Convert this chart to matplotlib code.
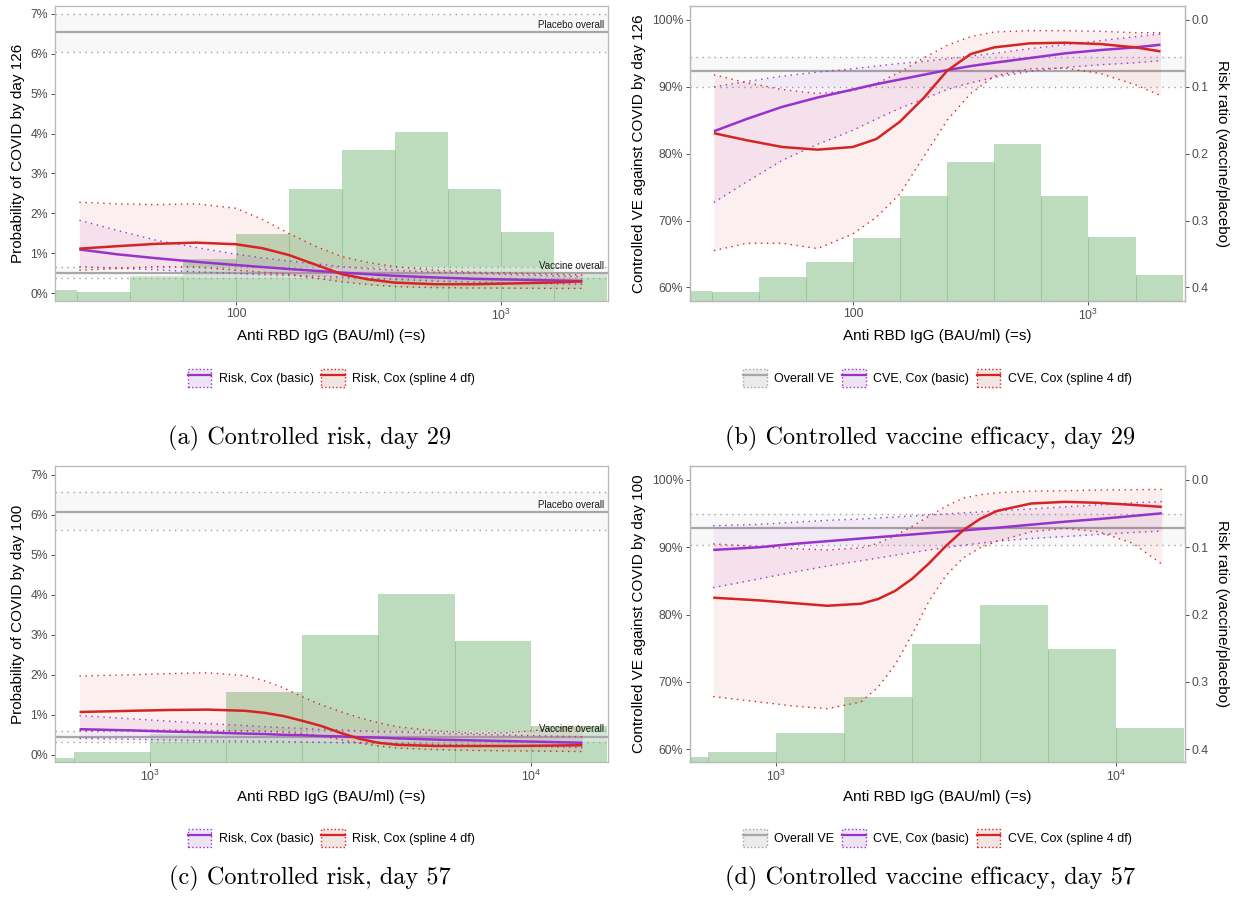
import numpy as np
import matplotlib.pyplot as plt
from matplotlib.patches import Patch
from matplotlib.lines import Line2D
from matplotlib.ticker import NullLocator
from matplotlib.transforms import blended_transform_factory

plt.rcParams['font.family'] = ['Liberation Sans', 'DejaVu Sans']
plt.rcParams['mathtext.fontset'] = 'custom'
plt.rcParams['mathtext.rm'] = 'Liberation Sans'
plt.rcParams['mathtext.default'] = 'regular'

# antibody levels (BAU/ml) where the fitted curves are reported
s_d29 = [25.7, 35.5, 50.1, 70.8, 100, 125.9, 158.5, 199.5, 251.2, 316.2,
         398.1, 562.3, 794.3, 1122, 1585, 2023]
s_d57 = [653, 891, 1122, 1413, 1778, 1995, 2239, 2512, 2818, 3162, 3548,
         3981, 4467, 5623, 7079, 8913, 11220, 13650]

# marker histogram in vaccine recipients, drawn in each panel's own units
bins_d29 = [15.85, 25.12, 39.81, 63.1, 100, 158.5, 251.2, 398.1, 631, 1000, 1585, 2512]
bins_d57 = [398.1, 631, 1000, 1585, 2512, 3981, 6310, 10000, 15849]
hist_risk_d29 = [0.08, 0.03, 0.43, 0.86, 1.48, 2.61, 3.58, 4.03, 2.61, 1.54, 0.52]
hist_ve_d29 = [59.45, 59.25, 61.54, 63.78, 67.35, 73.6, 78.8, 81.47, 73.6, 67.5, 61.84]
hist_risk_d57 = [-0.09, 0.07, 0.53, 1.57, 2.99, 4.03, 2.84, 0.73]
hist_ve_d57 = [58.76, 59.6, 62.43, 67.77, 75.64, 81.39, 74.9, 63.17]

# overall estimates: [estimate, lower, upper]
placebo_d29 = [6.53, 6.04, 7.0]
vaccine_d29 = [0.50, 0.375, 0.66]
placebo_d57 = [6.06, 5.62, 6.57]
vaccine_d57 = [0.44, 0.325, 0.59]
ve_all_d29 = [92.4, 90.0, 94.5]
ve_all_d57 = [92.8, 90.4, 94.9]

# controlled risk (%), day 29 marker
risk_basic_d29 = [1.10, 0.98, 0.88, 0.79, 0.71, 0.66, 0.61, 0.565, 0.52, 0.48,
                  0.44, 0.40, 0.365, 0.345, 0.325, 0.31]
risk_basic_lo_d29 = [0.67, 0.63, 0.59, 0.54, 0.50, 0.47, 0.45, 0.43, 0.41, 0.38,
                     0.35, 0.31, 0.28, 0.26, 0.24, 0.23]
risk_basic_hi_d29 = [1.83, 1.58, 1.33, 1.15, 0.98, 0.89, 0.81, 0.74, 0.67, 0.62,
                     0.58, 0.53, 0.50, 0.47, 0.44, 0.42]
risk_spl_d29 = [1.12, 1.18, 1.24, 1.27, 1.23, 1.13, 0.96, 0.72, 0.48, 0.35,
                0.27, 0.23, 0.23, 0.25, 0.275, 0.30]
risk_spl_lo_d29 = [0.58, 0.62, 0.67, 0.66, 0.58, 0.53, 0.48, 0.38, 0.29, 0.22,
                   0.17, 0.145, 0.135, 0.13, 0.125, 0.125]
risk_spl_hi_d29 = [2.28, 2.24, 2.22, 2.24, 2.13, 1.85, 1.50, 1.18, 0.92, 0.77,
                   0.67, 0.58, 0.53, 0.51, 0.48, 0.46]

# controlled VE (%), day 29 marker
ve_basic_d29 = [83.35, 85.2, 87.0, 88.4, 89.6, 90.4, 91.1, 91.8, 92.5, 93.1,
                93.6, 94.3, 95.0, 95.5, 95.9, 96.3]
ve_basic_lo_d29 = [72.7, 75.8, 79.0, 81.4, 83.5, 85.2, 86.8, 88.2, 89.6, 90.6,
                   91.4, 92.3, 92.9, 93.3, 93.6, 93.9]
ve_basic_hi_d29 = [90.0, 90.8, 91.6, 92.2, 92.7, 93.1, 93.5, 93.8, 94.2, 94.6,
                   95.0, 95.7, 96.3, 96.9, 97.5, 97.9]
ve_spl_d29 = [83.06, 82.0, 81.0, 80.6, 81.0, 82.2, 84.8, 88.3, 92.4, 94.9,
              95.9, 96.5, 96.6, 96.4, 95.9, 95.3]
ve_spl_lo_d29 = [65.5, 66.6, 66.6, 65.8, 68.0, 70.5, 74.0, 79.5, 85.0, 89.0,
                 91.6, 92.7, 92.8, 92.0, 90.3, 88.7]
ve_spl_hi_d29 = [91.8, 90.6, 89.6, 89.0, 89.4, 90.5, 92.2, 94.3, 96.2, 97.5,
                 98.2, 98.4, 98.4, 98.3, 98.1, 98.1]

# controlled risk (%), day 57 marker
risk_basic_d57 = [0.64, 0.61, 0.58, 0.56, 0.53, 0.52, 0.50, 0.49, 0.47, 0.46,
                  0.44, 0.43, 0.41, 0.38, 0.36, 0.34, 0.32, 0.30]
risk_basic_lo_d57 = [0.41, 0.39, 0.37, 0.35, 0.34, 0.335, 0.33, 0.32, 0.31, 0.305,
                     0.30, 0.29, 0.28, 0.26, 0.24, 0.22, 0.20, 0.18]
risk_basic_hi_d57 = [0.98, 0.90, 0.84, 0.78, 0.73, 0.70, 0.68, 0.66, 0.63, 0.62,
                     0.60, 0.58, 0.57, 0.54, 0.51, 0.49, 0.47, 0.45]
risk_spl_d57 = [1.07, 1.10, 1.12, 1.13, 1.10, 1.05, 0.97, 0.85, 0.72, 0.55,
                0.40, 0.30, 0.25, 0.22, 0.22, 0.22, 0.23, 0.24]
risk_spl_lo_d57 = [0.60, 0.61, 0.62, 0.61, 0.60, 0.59, 0.57, 0.53, 0.47, 0.38,
                   0.29, 0.22, 0.17, 0.13, 0.11, 0.10, 0.09, 0.08]
risk_spl_hi_d57 = [1.97, 2.00, 2.03, 2.05, 1.98, 1.85, 1.68, 1.45, 1.25, 1.08,
                   0.93, 0.80, 0.70, 0.60, 0.54, 0.56, 0.64, 0.74]

# controlled VE (%), day 57 marker
ve_basic_d57 = [89.6, 90.0, 90.5, 90.9, 91.3, 91.5, 91.7, 91.9, 92.1, 92.3,
                92.5, 92.7, 92.9, 93.35, 93.8, 94.2, 94.65, 95.05]
ve_basic_lo_d57 = [84.0, 85.3, 86.3, 87.2, 88.0, 88.4, 88.8, 89.2, 89.6, 89.95,
                   90.3, 90.6, 90.9, 91.3, 91.6, 91.9, 92.2, 92.4]
ve_basic_hi_d57 = [93.2, 93.4, 93.7, 94.0, 94.2, 94.35, 94.5, 94.65, 94.8, 94.95,
                   95.1, 95.25, 95.4, 95.7, 96.0, 96.3, 96.6, 96.8]
ve_spl_d57 = [82.5, 82.1, 81.7, 81.3, 81.6, 82.3, 83.5, 85.3, 87.6, 90.2,
              92.5, 94.2, 95.4, 96.5, 96.75, 96.6, 96.3, 96.0]
ve_spl_lo_d57 = [67.8, 67.0, 66.4, 66.0, 67.0, 69.2, 72.5, 77.0, 82.0, 85.8,
                 88.4, 89.9, 90.9, 92.3, 92.8, 92.3, 90.6, 87.5]
ve_spl_hi_d57 = [90.5, 90.1, 89.8, 89.6, 89.9, 90.6, 91.7, 93.1, 94.6, 96.1,
                 97.3, 97.8, 98.1, 98.35, 98.4, 98.5, 98.55, 98.6]

PURPLE = '#9932CC'
RED = '#D62424'
GREY = '#A8A8A8'
GREEN = '#BDDCBD'
DOTS = (0, (1, 3.3))

W, H = 1233, 915


def px_axes(fig, left, top, right, bottom):
    return fig.add_axes([left / W, 1 - bottom / H, (right - left) / W, (bottom - top) / H])


def style_axes(ax):
    for sp in ax.spines.values():
        sp.set_color('#B8B8B8')
        sp.set_linewidth(0.9)
    ax.tick_params(length=3, width=0.6, color='#333333', labelcolor='#4D4D4D',
                   labelsize=8.8, pad=2)
    ax.xaxis.set_minor_locator(NullLocator())


def draw_hist(ax, edges, tops, base):
    left = np.array(edges[:-1])
    right = np.array(edges[1:])
    tops = np.array(tops)
    ax.bar(left, tops - base, width=right - left, bottom=base, align='edge',
           color=GREEN, lw=0, zorder=1)
    # darker seams where neighbouring bars overlap
    ax.vlines(right[:-1], base, np.minimum(tops[:-1], tops[1:]),
              color='#98C898', lw=0.7, zorder=1.1)


def draw_overall(ax, vals, label=None):
    est, lo, hi = vals
    ax.axhspan(lo, hi, color='#F0F0F0', alpha=0.45, lw=0, zorder=2)
    ax.axhline(lo, color='#A0A0A0', lw=1.0, ls=DOTS, zorder=2.2)
    ax.axhline(hi, color='#A0A0A0', lw=1.0, ls=DOTS, zorder=2.2)
    ax.axhline(est, color=GREY, lw=1.6, zorder=2.4)
    if label:
        tr = blended_transform_factory(ax.transAxes, ax.transData)
        ax.annotate(label, (0.993, est), xycoords=tr, xytext=(0, 2),
                    textcoords='offset points', ha='right', va='bottom',
                    fontsize=7, color='#1A1A1A', zorder=6)


def draw_curve(ax, s, est, lo, hi, color):
    ax.fill_between(s, lo, hi, color=color, alpha=0.07, lw=0, zorder=3)
    ax.plot(s, lo, color=color, lw=1.0, ls=DOTS, zorder=4)
    ax.plot(s, hi, color=color, lw=1.0, ls=DOTS, zorder=4)
    ax.plot(s, est, color=color, lw=1.8, zorder=5, solid_capstyle='butt')


def risk_panel(ax, s, edges, hist, placebo, vaccine, basic, spline, xlim, ylim,
               xticks, xlabels, day):
    ax.set_xscale('log')
    ax.set_xlim(*xlim)
    ax.set_ylim(*ylim)
    draw_hist(ax, edges, hist, ylim[0])
    draw_overall(ax, placebo, 'Placebo overall')
    draw_overall(ax, vaccine, 'Vaccine overall')
    draw_curve(ax, s, *basic, PURPLE)
    draw_curve(ax, s, *spline, RED)
    ax.set_yticks(range(8))
    ax.set_yticklabels([f'{v}%' for v in range(8)])
    ax.set_xticks(xticks)
    ax.set_xticklabels(xlabels)
    style_axes(ax)
    ax.set_xlabel('Anti RBD IgG (BAU/ml) (=s)', fontsize=11, labelpad=4)
    ax.set_ylabel(f'Probability of COVID by day {day}', fontsize=11, labelpad=4)


def ve_panel(ax, s, edges, hist, overall, basic, spline, xlim, ylim,
             xticks, xlabels, day):
    ax.set_xscale('log')
    ax.set_xlim(*xlim)
    ax.set_ylim(*ylim)
    draw_hist(ax, edges, hist, ylim[0])
    draw_overall(ax, overall)
    draw_curve(ax, s, *basic, PURPLE)
    draw_curve(ax, s, *spline, RED)
    ve_ticks = [60, 70, 80, 90, 100]
    ax.set_yticks(ve_ticks)
    ax.set_yticklabels([f'{v}%' for v in ve_ticks])
    ax.set_xticks(xticks)
    ax.set_xticklabels(xlabels)
    style_axes(ax)
    ax.set_xlabel('Anti RBD IgG (BAU/ml) (=s)', fontsize=11, labelpad=4)
    ax.set_ylabel(f'Controlled VE against COVID by day {day}', fontsize=11, labelpad=4)

    # risk ratio = 1 - VE on the right
    rr = ax.twinx()
    rr.set_ylim(*ylim)
    rr.set_yticks(ve_ticks)
    rr.set_yticklabels([f'{1 - v / 100:.1f}' for v in ve_ticks])
    style_axes(rr)
    rr.set_ylabel('Risk ratio (vaccine/placebo)', fontsize=11, rotation=270,
                  va='bottom', labelpad=4)


def key(fill, edge, line):
    return (Patch(facecolor=fill, edgecolor=edge, linestyle=':', linewidth=1.0),
            Line2D([], [], color=line, lw=1.6))


def add_legend(fig, cx, cy, with_overall, prefix):
    handles, labels = [], []
    if with_overall:
        handles.append(key('#EBEBEB', '#A0A0A0', GREY))
        labels.append('Overall VE')
    handles.append(key('#EEE4F1', PURPLE, PURPLE))
    labels.append(f'{prefix}, Cox (basic)')
    handles.append(key('#F1E5E4', RED, RED))
    labels.append(f'{prefix}, Cox (spline 4 df)')
    fig.legend(handles, labels, loc='center', bbox_to_anchor=(cx / W, 1 - cy / H),
               ncol=len(handles), frameon=False, fontsize=9, handlelength=1.9,
               handleheight=1.9, handletextpad=0.6, columnspacing=0.6)


def caption(fig, cx, cy, text):
    fig.text(cx / W, 1 - cy / H, text, ha='center', va='center',
             fontfamily='cmr10', fontsize=17.5)


fig = plt.figure(figsize=(W / 100, H / 100), dpi=100)

ax_a = px_axes(fig, 55, 6, 608, 301)
risk_panel(ax_a, s_d29, bins_d29, hist_risk_d29, placebo_d29, vaccine_d29,
           (risk_basic_d29, risk_basic_lo_d29, risk_basic_hi_d29),
           (risk_spl_d29, risk_spl_lo_d29, risk_spl_hi_d29),
           (20.8, 2529), (-0.19, 7.19), [100, 1000], ['100', r'$10^3$'], 126)

ax_b = px_axes(fig, 690, 6, 1185, 301)
ve_panel(ax_b, s_d29, bins_d29, hist_ve_d29, ve_all_d29,
         (ve_basic_d29, ve_basic_lo_d29, ve_basic_hi_d29),
         (ve_spl_d29, ve_spl_lo_d29, ve_spl_hi_d29),
         (20.35, 2570), (57.96, 102.09), [100, 1000], ['100', r'$10^3$'], 126)

ax_c = px_axes(fig, 55, 466, 608, 762)
risk_panel(ax_c, s_d57, bins_d57, hist_risk_d57, placebo_d57, vaccine_d57,
           (risk_basic_d57, risk_basic_lo_d57, risk_basic_hi_d57),
           (risk_spl_d57, risk_spl_lo_d57, risk_spl_hi_d57),
           (563, 15950), (-0.18, 7.22), [1000, 10000], [r'$10^3$', r'$10^4$'], 100)

ax_d = px_axes(fig, 690, 466, 1185, 762)
ve_panel(ax_d, s_d57, bins_d57, hist_ve_d57, ve_all_d57,
         (ve_basic_d57, ve_basic_lo_d57, ve_basic_hi_d57),
         (ve_spl_d57, ve_spl_lo_d57, ve_spl_hi_d57),
         (558, 15970), (58.07, 102.08), [1000, 10000], [r'$10^3$', r'$10^4$'], 100)

add_legend(fig, 331.5, 378, False, 'Risk')
add_legend(fig, 937.5, 378, True, 'CVE')
add_legend(fig, 331.5, 838, False, 'Risk')
add_legend(fig, 937.5, 838, True, 'CVE')

caption(fig, 310, 438, '(a) Controlled risk, day 29')
caption(fig, 930, 438, '(b) Controlled vaccine efficacy, day 29')
caption(fig, 310, 878, '(c) Controlled risk, day 57')
caption(fig, 930, 878, '(d) Controlled vaccine efficacy, day 57')

fig.savefig('out.png', dpi=100)
